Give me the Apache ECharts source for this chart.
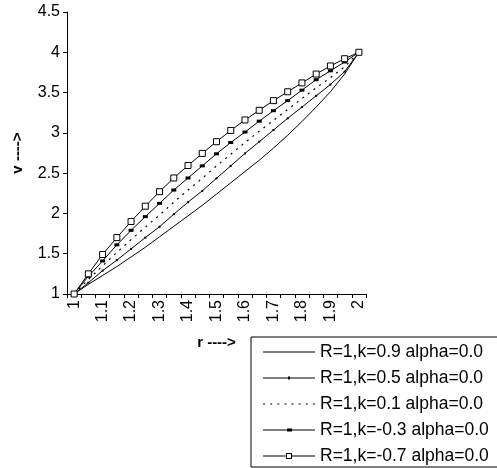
<!DOCTYPE html>
<html>
<head>
<meta charset="utf-8">
<script src="https://cdn.jsdelivr.net/npm/echarts@6/dist/echarts.min.js"></script>
<style>html,body{margin:0;padding:0;background:#fff;}#c{width:497px;height:468px;}</style>
</head>
<body>
<div id="c"></div>
<script>
const rCategories = ['1','1.05','1.1','1.15','1.2','1.25','1.3','1.35','1.4','1.45','1.5','1.55','1.6','1.65','1.7','1.75','1.8','1.85','1.9','1.95','2'];
const seriesNames = ['R=1,k=0.9 alpha=0.0','R=1,k=0.5 alpha=0.0','R=1,k=0.1 alpha=0.0','R=1,k=-0.3 alpha=0.0','R=1,k=-0.7 alpha=0.0'];
const vK09 = [1.00,1.12,1.23,1.34,1.46,1.58,1.71,1.84,1.97,2.10,2.24,2.38,2.52,2.66,2.81,2.97,3.14,3.32,3.51,3.73,4.00];
const vK05 = [1.00,1.14,1.29,1.42,1.56,1.70,1.835,1.99,2.14,2.28,2.436,2.59,2.745,2.89,3.035,3.18,3.32,3.46,3.60,3.76,4.00];
const vK01 = [1.00,1.18,1.35,1.515,1.675,1.83,1.98,2.14,2.29,2.435,2.59,2.735,2.88,3.02,3.155,3.29,3.425,3.56,3.685,3.82,4.00];
const vKm03 = [1.00,1.22,1.41,1.61,1.79,1.96,2.125,2.29,2.44,2.59,2.74,2.88,3.01,3.145,3.275,3.40,3.53,3.66,3.77,3.88,4.00];
const vKm07 = [1.00,1.25,1.49,1.70,1.90,2.09,2.27,2.44,2.595,2.745,2.89,3.03,3.16,3.28,3.40,3.51,3.62,3.73,3.83,3.92,4.00];

const legendIcons = [
  'path://M0,0H52V1H0Z',
  'path://M0,1H52V2H0Z M25,0H27V3H25Z',
  'path://M0,0H2V1.2H0Z M7,0H9V1.2H7Z M14,0H16V1.2H14Z M21,0H23V1.2H21Z M28,0H30V1.2H28Z M35,0H37V1.2H35Z M42,0H44V1.2H42Z M49,0H51V1.2H49Z',
  'path://M0,1H52V2H0Z M24,0H29V3H24Z',
  'path://M0,2.5H23V3.5H0Z M29,2.5H52V3.5H29Z M23,0H29V6H23Z M24,1V5H28V1Z'
];

const font = 'Liberation Sans, Arial, sans-serif';
const chart = echarts.init(document.getElementById('c'), null, {renderer: 'canvas'});
const base = {type: 'line', animation: false, silent: true};
chart.setOption({
  animation: false,
  backgroundColor: '#fff',
  grid: {left: 67, top: 12, width: 299, height: 282, containLabel: false},
  xAxis: {
    type: 'category', data: rCategories, boundaryGap: true,
    name: 'r ---->', nameLocation: 'middle', nameGap: 41,
    nameTextStyle: {fontFamily: font, fontSize: 15, fontWeight: 'bold', color: '#000'},
    axisLine: {lineStyle: {color: '#000', width: 1}},
    axisTick: {show: true, interval: 0, alignWithLabel: false, length: 4, lineStyle: {color: '#000'}},
    axisLabel: {interval: 1, rotate: 90, margin: 6, fontFamily: font, fontSize: 16, color: '#000'},
    splitLine: {show: false}
  },
  yAxis: {
    type: 'value', min: 1, max: 4.5, interval: 0.5,
    name: 'v ---->', nameLocation: 'middle', nameRotate: 90, nameGap: 42,
    nameTextStyle: {fontFamily: font, fontSize: 15, fontWeight: 'bold', color: '#000'},
    axisLine: {show: true, lineStyle: {color: '#000', width: 1}},
    axisTick: {show: true, length: 4, lineStyle: {color: '#000'}},
    axisLabel: {margin: 7, fontFamily: font, fontSize: 16, color: '#000'},
    splitLine: {show: false}
  },
  legend: {
    data: seriesNames.map((n, i) => ({name: n, icon: legendIcons[i],
      itemStyle: {color: '#000', borderWidth: 0}})),
    orient: 'vertical', left: 251, top: 337,
    padding: [6, 11, 2, 12],
    itemWidth: 52, itemHeight: 14, itemGap: 8,
    symbolKeepAspect: true,
    borderColor: '#000', borderWidth: 1, backgroundColor: '#fff',
    textStyle: {fontFamily: font, fontSize: 17.5, color: '#000'},
    selectedMode: false
  },
  series: [
    Object.assign({}, base, {name: seriesNames[0], data: vK09, symbol: 'none', showSymbol: false,
      lineStyle: {color: '#000', width: 1}, itemStyle: {color: '#000'}}),
    Object.assign({}, base, {name: seriesNames[1], data: vK05, symbol: 'rect', symbolSize: 2, showSymbol: true,
      lineStyle: {color: '#000', width: 1}, itemStyle: {color: '#000'}}),
    Object.assign({}, base, {name: seriesNames[2], data: vK01, symbol: 'none', showSymbol: false,
      lineStyle: {color: '#000', width: 1.2, type: [2, 5]}, itemStyle: {color: '#000'}}),
    Object.assign({}, base, {name: seriesNames[3], data: vKm03, symbol: 'rect', symbolSize: [5, 3], showSymbol: true,
      lineStyle: {color: '#000', width: 1}, itemStyle: {color: '#000'}}),
    Object.assign({}, base, {name: seriesNames[4], data: vKm07, symbol: 'rect', symbolSize: 6, showSymbol: true,
      lineStyle: {color: '#000', width: 1}, itemStyle: {color: '#fff', borderColor: '#000', borderWidth: 1}})
  ]
});
</script>
</body>
</html>
